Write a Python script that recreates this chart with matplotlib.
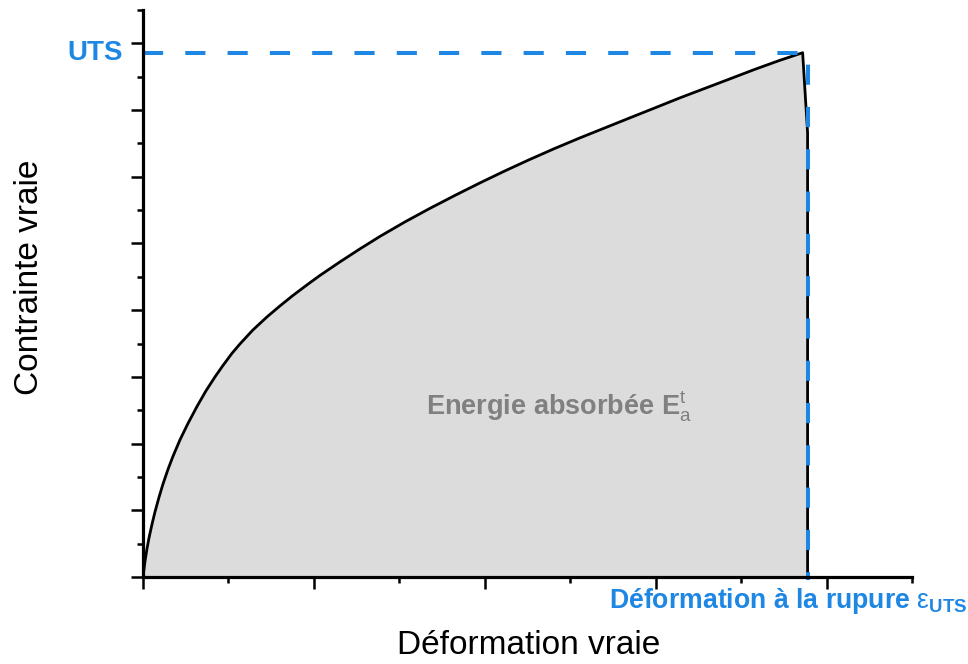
import matplotlib
matplotlib.use("Agg")
import matplotlib.pyplot as plt
import matplotlib.transforms as mtransforms
import numpy as np

# ---- data (arbitrary units) ----
strain = [0.0, 0.006, 0.012, 0.023, 0.035, 0.053, 0.070, 0.094, 0.117, 0.146,
          0.175, 0.216, 0.263, 0.316, 0.368, 0.421, 0.468, 0.520, 0.567, 0.643,
          0.725, 0.801, 0.877, 0.959, 1.035, 1.152, 1.269, 1.386, 1.532, 1.678,
          1.825, 1.971, 2.117, 2.263, 2.409, 2.556, 2.702, 2.848, 2.994, 3.140,
          3.287, 3.433, 3.579, 3.725, 3.813, 3.860, 3.889, 3.889]
stress = [0.0, 0.120, 0.240, 0.420, 0.585, 0.795, 0.975, 1.199, 1.394, 1.612,
          1.807, 2.054, 2.301, 2.557, 2.789, 2.999, 3.171, 3.351, 3.493, 3.703,
          3.898, 4.063, 4.220, 4.378, 4.520, 4.723, 4.918, 5.105, 5.322, 5.525,
          5.720, 5.907, 6.087, 6.259, 6.424, 6.582, 6.732, 6.882, 7.031, 7.181,
          7.324, 7.466, 7.609, 7.744, 7.819, 7.86, 6.66, 0.0]
uts = 7.86
strain_rupture = 3.889

xlabel = "Déformation vraie"
ylabel = "Contrainte vraie"
uts_label = "UTS"
rupture_label = r"Déformation à la rupure $\mathrm{\varepsilon}_{\mathbf{UTS}}$"
energy_label = r"Energie absorbée $\mathbf{E}_{\mathrm{a}}^{\mathrm{t}}$"

plt.rcParams['font.family'] = ['Liberation Sans', 'DejaVu Sans']
plt.rcParams['mathtext.fontset'] = 'custom'
plt.rcParams['mathtext.rm'] = 'Liberation Sans'
plt.rcParams['mathtext.bf'] = 'Liberation Sans:bold'
plt.rcParams['mathtext.it'] = 'Liberation Sans:italic'

blue = '#1E86E3'
gray_text = '#808080'

fig = plt.figure(figsize=(9.68, 6.64), dpi=100)
ax = fig.add_axes([143/968, 1-577/664, 769/968, 567/664])

ax.fill_between(strain, stress, 0, color='#dcdcdc', lw=0, zorder=1)
ax.plot(strain, stress, color='black', lw=2.0, zorder=3,
        solid_joinstyle='round', solid_capstyle='round')

# UTS dashed guide (one polyline wrapping the corner)
ax.plot([0, strain_rupture, strain_rupture], [uts, uts, -0.045],
        color=blue, lw=2.9, dashes=(5, 5.5), zorder=4, clip_on=False,
        dash_capstyle='butt')

ax.set_xlim(0, 4.5)
ax.set_ylim(0, 8.5)
ax.set_xticks(np.arange(0, 4.01, 1))
ax.set_xticks(np.arange(0.5, 4.51, 1), minor=True)
ax.set_yticks(np.arange(0, 8.01, 1))
ax.set_yticks(np.arange(0.5, 8.51, 1), minor=True)
ax.tick_params(which='both', direction='out', width=1.8, color='black',
               labelbottom=False, labelleft=False)
ax.tick_params(which='major', length=8.6)
ax.tick_params(which='minor', length=4.5)
for s in ['top', 'right']:
    ax.spines[s].set_visible(False)
for s in ['left', 'bottom']:
    ax.spines[s].set_linewidth(2.3)
    ax.spines[s].set_zorder(5)

fig.text(30/968, 1-277/664, ylabel, rotation=90, fontsize=24,
         ha='center', va='center')
fig.text(529/968, 1-645/664, xlabel, fontsize=24, ha='center', va='center')

trans = mtransforms.blended_transform_factory(fig.transFigure, ax.transData)
ax.text(123/968, uts, uts_label, transform=trans, color=blue, fontsize=20,
        fontweight='bold', ha='right', va='center')

fig.text(609/968, 1-608/664, rupture_label, color=blue, fontsize=19.2,
         fontweight='bold', ha='left', va='baseline')

fig.text(426/968, 1-415/664, energy_label, color=gray_text, fontsize=19.5,
         fontweight='bold', ha='left', va='baseline')

fig.savefig('out.png', dpi=100)
